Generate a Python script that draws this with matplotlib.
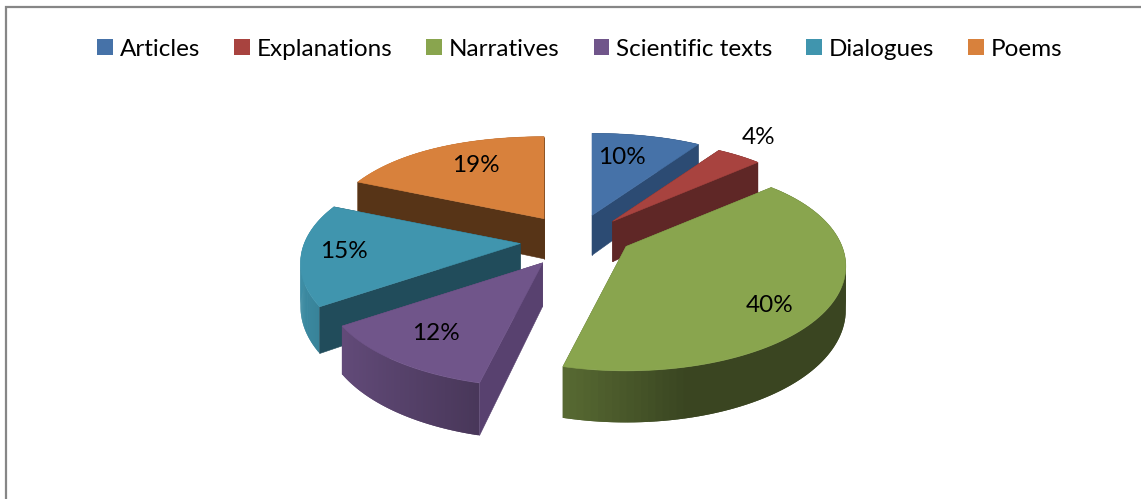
import numpy as np
import matplotlib
matplotlib.use("Agg")
import matplotlib.pyplot as plt
from matplotlib.patches import Patch
from matplotlib.colors import to_rgb

categories = ["Articles", "Explanations", "Narratives", "Scientific texts", "Dialogues", "Poems"]
values = [10, 4, 40, 12, 15, 19]

colors = ["#4672A8", "#A8433F", "#89A54E", "#70558A", "#4095AE", "#D8813C"]
wall_colors = ["#2C4B73", "#5F2726", "#56692F", "#58416F", "#214C5B", "#573417"]
explode_x = [1.0, 1.0, 1.1, 1.0, 1.0, 1.0]
lift = [0, 0, -9, 0, 0, 0]
label_xy = [(622, 157), (759, 138), (770, 306), (436, 334), (344, 252), (476, 165)]
draw_order = [0, 1, 5, 4, 3, 2]

# Projection of the tilted pie onto the page
CX, CY = 575, 241
EX, EY = 55, 27


def project(theta, ax0, ay0):
    u, v = np.sin(theta), np.cos(theta)
    rx = 216 - 41.5 * v - 2.5 * v ** 2
    ry = 108 - 21.2 * v - 4.8 * v ** 2
    return ax0 + u * rx, ay0 - v * ry


def depth(y):
    return 36 + 0.075 * (y - 163)


def wall_factor(u):
    return np.interp(u, [-1, -0.8, -0.25, 0.25, 1], [0.95, 0.86, 0.65, 0.42, 0.42])


fig = plt.figure(figsize=(11.41, 4.99), dpi=100)
ax = fig.add_axes([0, 0, 1, 1])
ax.set_xlim(0, 1141)
ax.set_ylim(499, 0)
ax.axis("off")
plt.rcParams["font.family"] = ["Lato", "DejaVu Sans"]

# chart frame
ax.plot([6, 6, 1141], [499, 7, 7], color="#868686", lw=1.6, solid_joinstyle="miter")

fractions = np.cumsum([0] + values) / sum(values)
for i in draw_order:
    z = 2 + draw_order.index(i)
    t0, t1 = 2 * np.pi * fractions[i], 2 * np.pi * fractions[i + 1]
    mid = (t0 + t1) / 2
    ax0 = CX + EX * explode_x[i] * np.sin(mid)
    ay0 = CY - EY * np.cos(mid) + lift[i]
    th = np.linspace(t0, t1, 90)
    xs, ys = project(th, ax0, ay0)

    def wall(j):
        wx = [ax0, xs[j], xs[j], ax0]
        wy = [ay0, ys[j], ys[j] + depth(ys[j]), ay0 + depth(ay0)]
        ax.fill(wx, wy, color=wall_colors[i], lw=0.4, zorder=z)

    start_visible = np.sin(t0) < -1e-9
    end_visible = np.sin(t1) > 1e-9
    # cut walls that face away go under the rim
    if not start_visible:
        wall(0)
    if not end_visible:
        wall(-1)
    # outer rim, shaded along the arc; quads overlap to hide seams
    base = np.array(to_rgb(colors[i]))
    for a in range(len(th) - 1):
        b = min(a + 2, len(th) - 1)
        f = wall_factor(np.sin(th[a]))
        qx = [xs[a], xs[b], xs[b], xs[a]]
        qy = [ys[a], ys[b], ys[b] + depth(ys[b]), ys[a] + depth(ys[a])]
        ax.fill(qx, qy, color=base * f, lw=0, zorder=z)
    # cut walls that face the viewer
    if start_visible:
        wall(0)
    if end_visible:
        wall(-1)
    # top face
    ax.fill(np.r_[ax0, xs], np.r_[ay0, ys], color=colors[i], lw=0.4, zorder=z)

for (x, y), v in zip(label_xy, values):
    ax.text(x, y, f"{v}%", ha="center", va="center", fontsize=17.5,
            color="black", zorder=20)

handles = [Patch(facecolor=c, edgecolor="none") for c in colors]
ax.legend(handles, categories, loc="center", bbox_to_anchor=(580, 49),
          bbox_transform=ax.transData, ncol=6, frameon=False, fontsize=17.5,
          handlelength=0.64, handleheight=0.64, handletextpad=0.3,
          columnspacing=1.38, borderpad=0, borderaxespad=0)

fig.savefig("out.png", dpi=100)
